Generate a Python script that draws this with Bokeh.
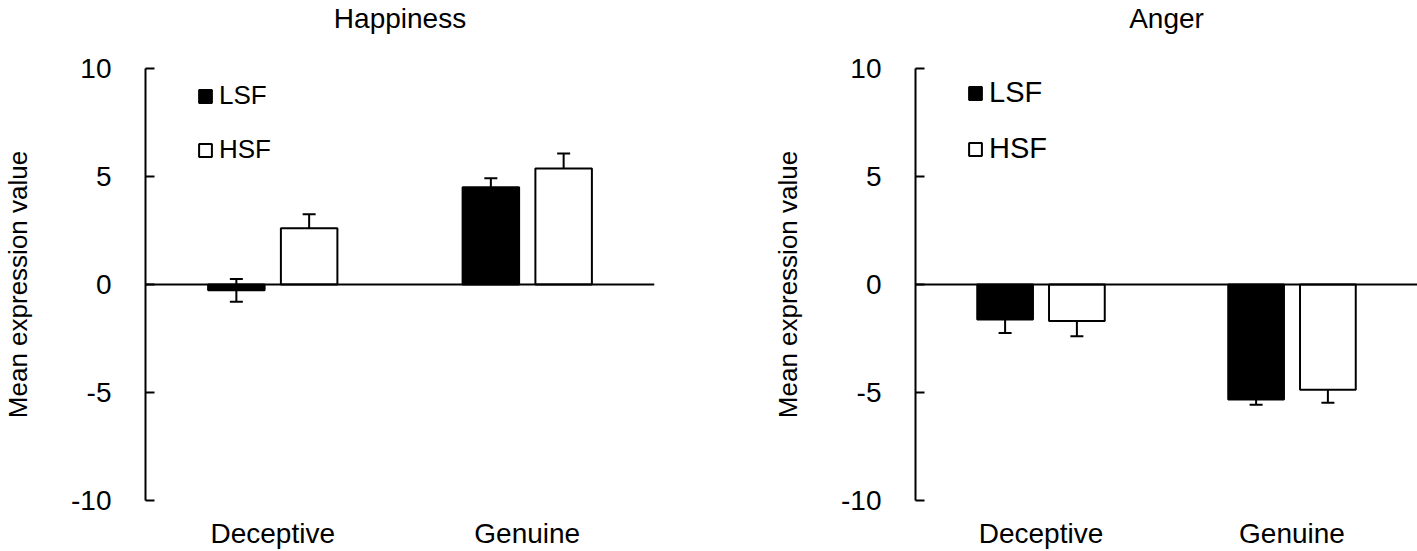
from bokeh.plotting import figure
from bokeh.layouts import row
from bokeh.models import (ColumnDataSource, Range1d, FixedTicker, Whisker, TeeHead,
                          Span, Legend, LegendItem, LinearAxis, Title)
from bokeh.embed import file_html
from bokeh.resources import INLINE

groups = ["Deceptive", "Genuine"]
series = ["LSF", "HSF"]
titles = ["Happiness", "Anger"]
yticks = [-10, -5, 0, 5, 10]
ytick_labels = ["-10", "-5", "0", "5", "10"]

happy_lsf = [-0.27, 4.50]
happy_lsf_err = [0.53, 0.42]
happy_hsf = [2.60, 5.37]
happy_hsf_err = [0.65, 0.70]

anger_lsf = [-1.62, -5.32]
anger_lsf_err = [0.63, 0.25]
anger_hsf = [-1.69, -4.87]
anger_hsf_err = [0.71, 0.61]

FONT = "Liberation Sans"
OFFSET = 0.143
BAR_W = 0.222
PX_PER_UNIT = 257
HEIGHT = 551
TOP = 68
BOTTOM = HEIGHT - 500
TITLE_GAP = 35


def make_panel(title, lsf, lsf_err, hsf, hsf_err, width, border_left, x_end, legend_size):
    frame_w = int(round(PX_PER_UNIT * x_end))
    p = figure(width=width, height=HEIGHT, output_backend="svg", toolbar_location=None,
               x_range=Range1d(0, x_end), y_range=Range1d(-10, 10),
               min_border_left=border_left, min_border_right=width - border_left - frame_w,
               min_border_top=TOP, min_border_bottom=BOTTOM)
    p.outline_line_color = None
    p.grid.visible = False
    p.background_fill_color = "white"
    p.border_fill_color = "white"

    xa = p.below[0]
    ya = p.left[0]
    xc = [i + 0.5 for i in range(len(groups))]

    # invisible spacer between frame and title (ticks hidden, labels empty)
    spacer = LinearAxis(ticker=FixedTicker(ticks=xc, minor_ticks=[]), axis_line_color=None,
                        major_tick_line_color=None, minor_tick_line_color=None,
                        major_tick_in=0, major_tick_out=TITLE_GAP, minor_tick_out=0,
                        minor_tick_in=0, major_label_standoff=0, axis_label_standoff=0,
                        major_label_overrides={c: "" for c in xc},
                        major_label_text_font_size="1px")
    p.add_layout(spacer, "above")
    p.add_layout(Title(text=title, align="center", vertical_align="bottom", standoff=0,
                       text_font=FONT, text_font_size="28px", text_font_style="normal",
                       text_color="black"), "above")

    renderers = []
    for vals, errs, fill, shift in ((lsf, lsf_err, "black", -OFFSET), (hsf, hsf_err, "white", OFFSET)):
        src = ColumnDataSource(dict(
            x=[c + shift for c in xc],
            top=vals,
            upper=[v + e for v, e in zip(vals, errs)],
            lower=[v - e for v, e in zip(vals, errs)],
        ))
        r = p.vbar(x="x", top="top", bottom=0, width=BAR_W, source=src,
                   fill_color=fill, line_color="black", line_width=2)
        renderers.append(r)
        w = Whisker(base="x", upper="upper", lower="lower", source=src, dimension="height",
                    line_color="black", line_width=2,
                    upper_head=TeeHead(size=13, line_color="black", line_width=2),
                    lower_head=TeeHead(size=13, line_color="black", line_width=2))
        p.add_layout(w)

    p.add_layout(Span(location=0, dimension="width", line_color="black", line_width=2))

    # y axis
    ya.ticker = FixedTicker(ticks=yticks)
    ya.major_label_overrides = {t: s for t, s in zip(yticks, ytick_labels)}
    ya.minor_tick_line_color = None
    ya.major_tick_in = 9
    ya.major_tick_out = 0
    ya.major_tick_line_width = 2
    ya.axis_line_width = 2
    ya.major_label_standoff = 34
    ya.major_label_text_font = FONT
    ya.major_label_text_font_size = "28px"
    ya.major_label_text_color = "black"
    ya.axis_label = "Mean expression value"
    ya.axis_label_text_font = FONT
    ya.axis_label_text_font_size = "26px"
    ya.axis_label_text_font_style = "normal"
    ya.axis_label_text_color = "black"
    ya.axis_label_standoff = 35

    # x axis (category labels only)
    xa.ticker = FixedTicker(ticks=xc)
    xa.major_label_overrides = {c: g for c, g in zip(xc, groups)}
    xa.axis_line_color = None
    xa.major_tick_line_color = None
    xa.minor_tick_line_color = None
    xa.major_tick_out = 0
    xa.major_tick_in = 0
    xa.major_label_standoff = 17
    xa.major_label_text_font = FONT
    xa.major_label_text_font_size = "28px"
    xa.major_label_text_color = "black"

    legend = Legend(items=[LegendItem(label=s, renderers=[r]) for s, r in zip(series, renderers)],
                    location=(52, 335), orientation="vertical",
                    padding=0, margin=0, spacing=23,
                    glyph_width=16, glyph_height=16, label_height=30,
                    label_standoff=6, label_text_font=FONT,
                    label_text_font_size=legend_size, label_text_color="black",
                    border_line_color=None, background_fill_alpha=0)
    p.add_layout(legend)
    return p


W1 = 770
p1 = make_panel(titles[0], happy_lsf, happy_lsf_err, happy_hsf, happy_hsf_err,
                width=W1, border_left=140, x_end=2.0, legend_size="26px")
p2 = make_panel(titles[1], anger_lsf, anger_lsf_err, anger_hsf, anger_hsf_err,
                width=1417 - W1, border_left=133, x_end=2.0, legend_size="29px")

layout = row(p1, p2)
open("out.html", "w").write(file_html(layout, INLINE))
